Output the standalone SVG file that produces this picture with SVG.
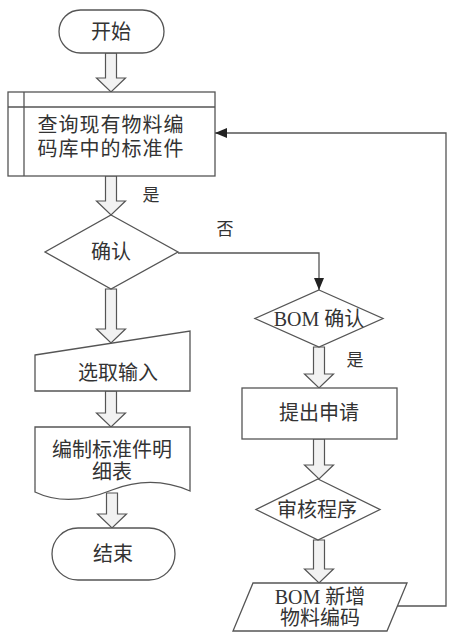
<svg xmlns="http://www.w3.org/2000/svg" width="452" height="637" viewBox="0 0 452 637">
<defs>
<style>
.s{fill:#fff;stroke:#555;stroke-width:1.3}
.ba{fill:#f2f2f2;stroke:#555;stroke-width:1.2}
.ln{fill:none;stroke:#555;stroke-width:1.3}
.t{font-family:"Liberation Serif","Noto Sans CJK SC",serif;font-size:20px;fill:#333;text-anchor:middle;dominant-baseline:central}
.l{font-family:"Liberation Serif","Noto Sans CJK SC",serif;font-size:17px;fill:#333;text-anchor:middle;dominant-baseline:central}
</style>
<marker id="ah" markerWidth="12" markerHeight="10" refX="12" refY="5" orient="auto" markerUnits="userSpaceOnUse">
<path d="M0,0 L12,5 L0,10 Z" fill="#222"/>
</marker>
</defs>
<rect width="452" height="637" fill="#fff"/>
<g id="connectors">
<path class="ba" d="M105.5,53 V78 H96.5 L111,92 L125.5,78 H116.5 V53 Z"/>
<path class="ba" d="M105.5,176 V201 H96.5 L111,215 L125.5,201 H116.5 V176 Z"/>
<path class="ba" d="M105.5,289 V329 H96.5 L111,343 L125.5,329 H116.5 V289 Z"/>
<path class="ba" d="M105.5,391 V413 H96.5 L111,427 L125.5,413 H116.5 V391 Z"/>
<path class="ba" d="M106.5,493 V514 H97.5 L112,528 L126.5,514 H117.5 V493 Z"/>
<path class="ba" d="M313.5,347 V374 H304.5 L319,388 L333.5,374 H324.5 V347 Z"/>
<path class="ba" d="M313.5,439 V465 H304.5 L319,479 L333.5,465 H324.5 V439 Z"/>
<path class="ba" d="M313.5,540 V569 H304.5 L319,583 L333.5,569 H324.5 V540 Z"/>
<path class="ln" d="M178,253 H319 V290" marker-end="url(#ah)"/>
<path class="ln" d="M395,606 H446 V133 H215" marker-end="url(#ah)"/>
<text class="l" x="151" y="195">是</text>
<text class="l" x="225" y="229">否</text>
<text class="l" x="355" y="360">是</text>
</g>
<g id="start">
<rect class="s" x="59" y="10" width="105" height="43" rx="21.5"/>
<text class="t" x="111" y="32">开始</text>
</g>
<g id="query">
<rect class="s" x="8" y="92" width="207" height="84"/>
<line class="ln" x1="24" y1="92" x2="24" y2="176"/>
<line class="ln" x1="8" y1="107" x2="215" y2="107"/>
<text class="t" x="111" y="125" style="letter-spacing:1px">查询现有物料编</text>
<text class="t" x="111" y="149" style="letter-spacing:1px">码库中的标准件</text>
</g>
<g id="confirm">
<path class="s" d="M111,215 L178,252 L111,289 L45,252 Z"/>
<text class="t" x="111" y="252">确认</text>
</g>
<g id="select">
<path class="s" d="M35,355 L190,331 V391 H35 Z"/>
<text class="t" x="118" y="373">选取输入</text>
</g>
<g id="doc">
<path class="s" d="M35,427 H190 V491 C165,480 140,479 112,490 C85,501 58,503 35,492 Z"/>
<text class="t" x="112" y="450">编制标准件明</text>
<text class="t" x="112" y="472">细表</text>
</g>
<g id="end">
<rect class="s" x="52" y="528" width="123" height="52" rx="26"/>
<text class="t" x="113" y="554">结束</text>
</g>
<g id="bom">
<path class="s" d="M319,290 L383,318.5 L319,347 L255,318.5 Z"/>
<text class="t" x="319" y="319">BOM 确认</text>
</g>
<g id="apply">
<rect class="s" x="242" y="388" width="155" height="51"/>
<text class="t" x="319" y="413">提出申请</text>
</g>
<g id="review">
<path class="s" d="M318,479 L380,509.5 L318,540 L256,509.5 Z"/>
<text class="t" x="317" y="510">审核程序</text>
</g>
<g id="newcode">
<path class="s" d="M253,583 H407 L387,631 H233 Z"/>
<text class="t" x="320" y="597">BOM 新增</text>
<text class="t" x="320" y="618">物料编码</text>
</g>
</svg>
